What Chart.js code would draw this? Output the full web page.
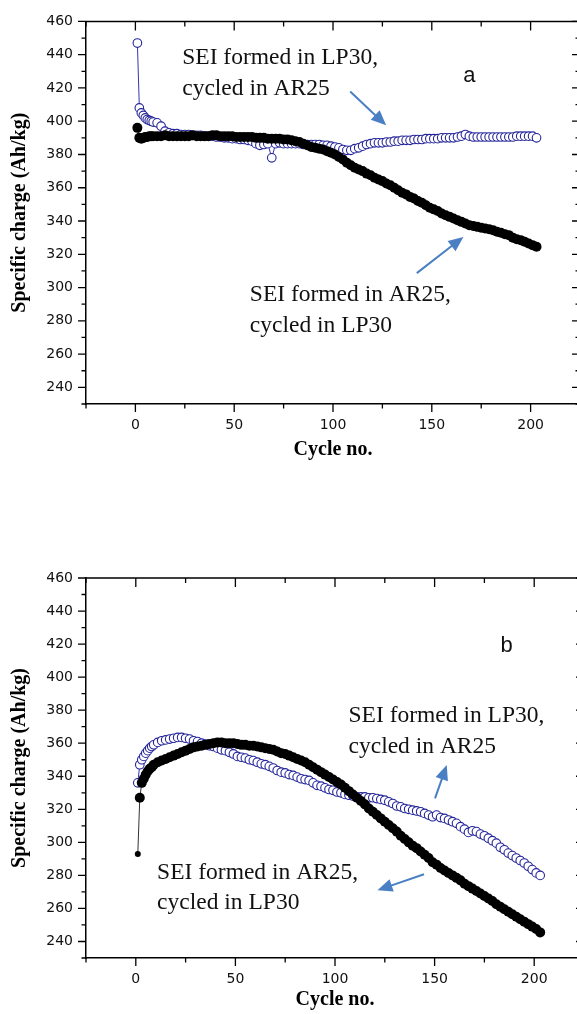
<!DOCTYPE html>
<html>
<head>
<meta charset="utf-8">
<script src="https://cdn.jsdelivr.net/npm/chart.js@4.4.0/dist/chart.umd.min.js"></script>
<style>
  html, body { margin: 0; padding: 0; background: #fff; overflow: hidden; width: 577px; height: 1014px; }
  .box { position: absolute; left: 0; width: 600px; }
  #boxA { top: 0; height: 470px; }
  #boxB { top: 540px; height: 474px; }
</style>
</head>
<body>
<div class="box" id="boxA"><canvas id="chartA"></canvas></div>
<div class="box" id="boxB"><canvas id="chartB"></canvas></div>
<script>
// cycle numbers shared by all four series
const cycles = [1, 2, 3, 4, 5, 6, 7, 8, 9,
  11, 13, 15, 17, 19, 21, 23, 25, 27, 29,
  31, 33, 35, 37, 39, 41, 43, 45, 47, 49,
  51, 53, 55, 57, 59, 61, 63, 65, 67, 69,
  71, 73, 75, 77, 79, 81, 83, 85, 87, 89,
  91, 93, 95, 97, 99, 101, 103, 105, 107, 109,
  111, 113, 115, 117, 119, 121, 123, 125, 127, 129,
  131, 133, 135, 137, 139, 141, 143, 145, 147, 149,
  151, 153, 155, 157, 159, 161, 163, 165, 167, 169,
  171, 173, 175, 177, 179, 181, 183, 185, 187, 189,
  191, 193, 195, 197, 199, 201, 203];

// panel a - open circles: SEI formed in LP30, cycled in AR25
const aLP30 = [447, 408, 405, 403.5, 402, 401, 400.5, 400, 399.5,
  399, 397, 394, 393, 392.5, 392.5, 392, 392, 392, 391.5,
  391.5, 391.5, 391, 391, 391, 390.5, 390.5, 390, 390, 389.5,
  389.5, 389, 389, 388.5, 388, 386.5, 385.5, 386, 386.5, 378,
  386.5, 387, 386.5, 386.5, 386.5, 386.5, 386.5, 386, 386, 386,
  386, 386, 385.5, 385.5, 385, 384.5, 384, 383, 382.5, 382.5,
  383.5, 384, 385, 386, 386.5, 387, 387, 387, 387.5, 387.5,
  388, 388, 388.5, 388.5, 388.5, 389, 389, 389, 389.5, 389.5,
  389.5, 389.5, 390, 390, 390, 390, 390.5, 391, 392, 391,
  390.5, 390.5, 390.5, 390.5, 390.5, 390.5, 390.5, 390.5, 390.5, 390.5,
  390.5, 391, 391, 391, 391, 391, 390];
// panel a - filled circles: SEI formed in AR25, cycled in LP30
const aAR25 = [396, 390, 389.5, 390, 390.5, 390.5, 391, 391, 391,
  391, 391, 391.5, 391, 391, 391, 391, 391, 391, 391.5,
  391, 391, 391, 391, 391.5, 391.5, 391, 391, 391, 391,
  390.5, 390.5, 390.5, 390.5, 390.5, 390, 390, 390, 389.5, 389.5,
  389.5, 389.5, 389, 389, 388.5, 388, 387.5, 386.5, 385.5, 384.5,
  384, 383.5, 383, 382, 381, 380, 378.5, 377, 375, 373.5,
  372, 371, 370, 368.5, 367.5, 366, 365, 364, 362.5, 361.5,
  360, 358.5, 357, 356, 354.5, 353.5, 352, 351, 349.5, 348,
  347, 346, 344.5, 343.5, 342.5, 341.5, 340.5, 339.5, 338.5, 337.5,
  337, 336.5, 336, 335.5, 335, 334.5, 333.5, 333, 332, 331.5,
  330, 329, 328.5, 327.5, 326.5, 325.5, 324.5];

// panel b - open circles: SEI formed in LP30, cycled in AR25
const bLP30 = [336, 347, 350, 352, 354, 355.5, 357, 358, 359,
  360.5, 361.5, 362, 362.5, 363, 363.5, 363.5, 363, 362.5, 361.5,
  361, 360, 359.5, 358.5, 358, 357, 356, 355.5, 354.5, 353.5,
  352, 351.5, 351, 350, 349.5, 348.5, 347.5, 347, 346, 345,
  343.5, 342.5, 342, 341, 340.5, 339.5, 338.5, 338, 337.5, 336,
  334.5, 334, 333, 332, 331.5, 330.5, 330, 329, 328.5, 328,
  327.5, 327.5, 327.5, 327, 327, 326.5, 326, 325.5, 324.5, 323.5,
  322, 321.5, 320.5, 320, 319.5, 319, 318.5, 317.5, 316.5, 315.5,
  316.5, 315, 314.5, 313.5, 312.5, 311.5, 309.5, 308, 306, 307,
  306.5, 305, 304, 302.5, 301, 299.5, 297, 295.5, 293.5, 292,
  290.5, 289, 287.5, 285.5, 283.5, 281.5, 280];
// panel b - filled circles: SEI formed in AR25, cycled in LP30
const bAR25 = [293, 327, 336, 338.5, 341, 343, 344.5, 345.5, 347,
  348.5, 349.5, 350.5, 351.5, 352.5, 353.5, 354.5, 355.5, 356.5, 357.5,
  358, 358.5, 359, 359.5, 360, 360.5, 360.5, 360, 360, 360,
  359.5, 359, 359, 358.5, 358.5, 358, 357.5, 357, 356.5, 356,
  355, 354, 353.5, 352.5, 351.5, 350.5, 349.5, 348.5, 347, 345.5,
  344, 342.5, 341, 339.5, 338, 336.5, 335, 333, 331, 329,
  327, 325, 323, 320.5, 318.5, 316.5, 314.5, 312.5, 310.5, 308.5,
  306.5, 304, 302, 300, 298, 296.5, 294.5, 292.5, 290.5, 288,
  286.5, 284.5, 283, 281.5, 280, 278.5, 277, 275, 273.5, 272,
  270.5, 269, 267.5, 266, 264.5, 262.5, 261, 259.5, 258, 256.5,
  255, 253.5, 252, 250.5, 249, 247.5, 245.5];

const xTicks = [0, 50, 100, 150, 200];
const yTicks = [240, 260, 280, 300, 320, 340, 360, 380, 400, 420, 440, 460];
const xRange = [-25, 225];
const yRange = [230, 460];

Chart.defaults.font.family = 'DejaVu Sans';

function punti(vals) {
  return cycles.map((c, i) => ({ x: c, y: vals[i] }));
}

// frame: top/right axis lines and all tick marks (major + minor)
const framePlugin = {
  id: 'frame',
  afterDraw(chart) {
    const { ctx, chartArea: area, scales: { x, y } } = chart;
    ctx.save();
    ctx.strokeStyle = '#000';
    ctx.lineWidth = 1.5;
    ctx.beginPath();
    ctx.moveTo(area.left, area.top);
    ctx.lineTo(area.right, area.top);
    ctx.lineTo(area.right, area.bottom);
    ctx.stroke();

    const xStep = xTicks[1] - xTicks[0];
    const yStep = yTicks[1] - yTicks[0];
    const xMinor = xTicks.map(v => v - xStep / 2).concat([xTicks[xTicks.length - 1] + xStep / 2]);
    const yMinor = yTicks.map(v => v - yStep / 2);

    ctx.lineWidth = 1.3;
    ctx.beginPath();
    xTicks.forEach(v => {
      const px = x.getPixelForValue(v);
      ctx.moveTo(px, area.bottom); ctx.lineTo(px, area.bottom + 8);
      ctx.moveTo(px, area.top); ctx.lineTo(px, area.top + 9);
    });
    xMinor.forEach(v => {
      if (v < xRange[0] || v > xRange[1]) return;
      const px = x.getPixelForValue(v);
      ctx.moveTo(px, area.bottom); ctx.lineTo(px, area.bottom + 4.5);
      ctx.moveTo(px, area.top); ctx.lineTo(px, area.top + 5);
    });
    yTicks.forEach(v => {
      const py = y.getPixelForValue(v);
      ctx.moveTo(area.left, py); ctx.lineTo(area.left - 8, py);
      ctx.moveTo(area.right, py); ctx.lineTo(area.right - 8, py);
    });
    yMinor.forEach(v => {
      if (v < yRange[0] || v > yRange[1]) return;
      const py = y.getPixelForValue(v);
      ctx.moveTo(area.left, py); ctx.lineTo(area.left - 4.5, py);
      ctx.moveTo(area.right, py); ctx.lineTo(area.right - 4.5, py);
    });
    ctx.stroke();
    ctx.restore();
  }
};

// text notes and arrows, anchored in data coordinates
const notesPlugin = {
  id: 'notes',
  afterDraw(chart, args, opts) {
    const { ctx, scales: { x, y } } = chart;
    ctx.save();
    ctx.textBaseline = 'alphabetic';
    (opts.labels || []).forEach(n => {
      ctx.font = n.font;
      ctx.fillStyle = '#111';
      ctx.textAlign = n.align || 'left';
      const px = x.getPixelForValue(n.x);
      const py = y.getPixelForValue(n.y);
      n.lines.forEach((t, i) => ctx.fillText(t, px, py + i * (n.gap || 0)));
    });
    (opts.arrows || []).forEach(a => {
      const x0 = x.getPixelForValue(a.from[0]), y0 = y.getPixelForValue(a.from[1]);
      const x1 = x.getPixelForValue(a.to[0]), y1 = y.getPixelForValue(a.to[1]);
      const ang = Math.atan2(y1 - y0, x1 - x0);
      const head = 15, half = 6.5;
      ctx.strokeStyle = '#4a7fc4';
      ctx.fillStyle = '#4a7fc4';
      ctx.lineWidth = 2;
      ctx.beginPath();
      ctx.moveTo(x0, y0);
      ctx.lineTo(x1 - Math.cos(ang) * head * 0.8, y1 - Math.sin(ang) * head * 0.8);
      ctx.stroke();
      ctx.beginPath();
      ctx.moveTo(x1, y1);
      ctx.lineTo(x1 - Math.cos(ang) * head - Math.sin(ang) * half, y1 - Math.sin(ang) * head + Math.cos(ang) * half);
      ctx.lineTo(x1 - Math.cos(ang) * head + Math.sin(ang) * half, y1 - Math.sin(ang) * head - Math.cos(ang) * half);
      ctx.closePath();
      ctx.fill();
    });
    ctx.restore();
  }
};

function creaGrafico(id, filled, open, cfg) {
  const ctx = document.getElementById(id).getContext('2d');
  return new Chart(ctx, {
    type: 'scatter',
    data: {
      datasets: [{
        label: 'SEI formed in AR25, cycled in LP30',
        data: punti(filled),
        showLine: true,
        borderColor: '#333',
        borderWidth: 1,
        pointRadius: c => (c.dataIndex === 0 ? cfg.firstRadius : 5),
        pointBackgroundColor: '#000',
        pointBorderColor: '#000',
        pointBorderWidth: 0
      }, {
        label: 'SEI formed in LP30, cycled in AR25',
        data: punti(open),
        showLine: true,
        borderColor: '#3434b0',
        borderWidth: 1,
        pointRadius: 4.3,
        pointBackgroundColor: '#fff',
        pointBorderColor: '#24249a',
        pointBorderWidth: 1.1
      }]
    },
    options: {
      responsive: true,
      maintainAspectRatio: false,
      animation: false,
      events: [],
      layout: { padding: { top: cfg.padTop, right: cfg.padRight, left: 0, bottom: 0 } },
      plugins: {
        legend: { display: false },
        tooltip: { enabled: false },
        notes: cfg.notes
      },
      scales: {
        x: {
          type: 'linear',
          min: xRange[0],
          max: xRange[1],
          afterBuildTicks: s => { s.ticks = xTicks.map(v => ({ value: v })); },
          afterFit: s => { s.height = cfg.xHeight; },
          grid: { display: false, drawTicks: false },
          border: { display: true, color: '#000', width: 1.6 },
          ticks: { padding: 13, color: '#111', font: { size: 14 }, maxRotation: 0 },
          title: {
            display: true, text: 'Cycle no.', color: '#000',
            font: { family: 'Liberation Serif', size: 20, weight: 'bold' },
            padding: { top: 0, bottom: cfg.xTitlePad }
          }
        },
        y: {
          type: 'linear',
          min: yRange[0],
          max: yRange[1],
          afterBuildTicks: s => { s.ticks = yTicks.map(v => ({ value: v })); },
          afterFit: s => { s.width = 86; },
          grid: { display: false, drawTicks: false },
          border: { display: true, color: '#000', width: 1.5 },
          ticks: { padding: 13, color: '#111', font: { size: 14 } },
          title: {
            display: true, text: 'Specific charge (Ah/kg)', color: '#000',
            font: { family: 'Liberation Serif', size: 20, weight: 'bold' },
            padding: { top: 7.5, bottom: 0 }
          }
        }
      }
    },
    plugins: [framePlugin, notesPlugin]
  });
}

const fontNote = '23.5px "Liberation Serif"';
const fontLetter = '22px "Liberation Sans"';

creaGrafico('chartA', aAR25, aLP30, {
  padTop: 16, padRight: 20, xHeight: 66, xTitlePad: 8, firstRadius: 5,
  notes: {
    labels: [
      { x: 23.7, y: 434.4, gap: 31, font: fontNote, lines: ['SEI formed in LP30,', 'cycled in AR25'] },
      { x: 57.9, y: 292, gap: 31, font: fontNote, lines: ['SEI formed in AR25,', 'cycled in LP30'] },
      { x: 169, y: 423.3, font: fontLetter, align: 'center', lines: ['a'] }
    ],
    arrows: [
      { from: [108.7, 417.8], to: [126.9, 397.5] },
      { from: [142.4, 308.7], to: [166, 330.4] }
    ]
  }
});

creaGrafico('chartB', bAR25, bLP30, {
  padTop: 38, padRight: 16, xHeight: 56, xTitlePad: 2, firstRadius: 3,
  notes: {
    labels: [
      { x: 106.8, y: 373, gap: 31.5, font: fontNote, lines: ['SEI formed in LP30,', 'cycled in AR25'] },
      { x: 10.7, y: 278.1, gap: 30, font: fontNote, lines: ['SEI formed in AR25,', 'cycled in LP30'] },
      { x: 186.2, y: 415.5, font: fontLetter, align: 'center', lines: ['b'] }
    ],
    arrows: [
      { from: [150.2, 326.6], to: [156.1, 346.8] },
      { from: [144.7, 280.7], to: [121.3, 271] }
    ]
  }
});
</script>
</body>
</html>
